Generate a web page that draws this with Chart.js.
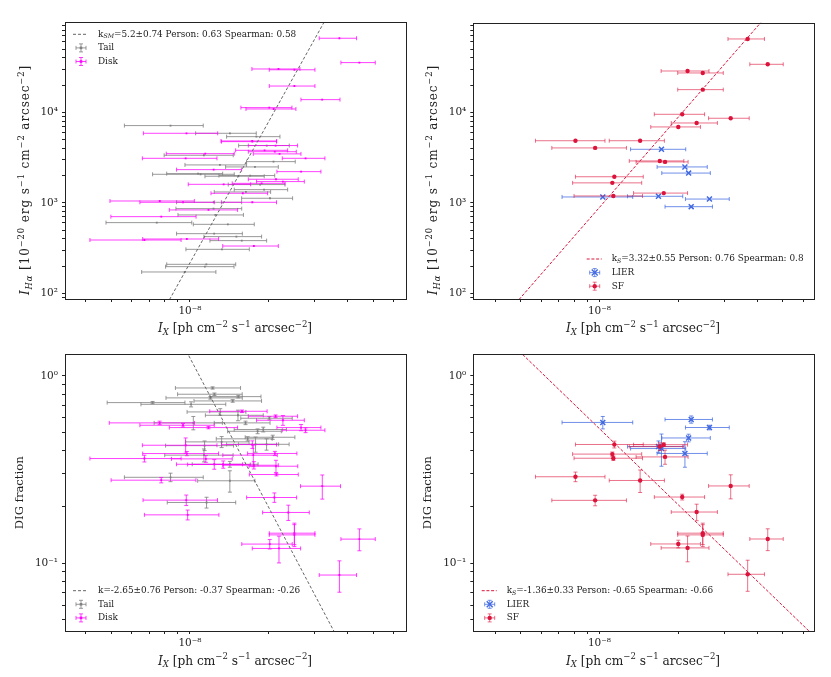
<!DOCTYPE html>
<html>
<head>
<meta charset="utf-8">
<script src="https://cdn.jsdelivr.net/npm/chart.js@4.4.1/dist/chart.umd.min.js"></script>
<style>
  body { margin: 0; background: #fff; width: 831px; height: 677px; position: relative; overflow: hidden; }
  canvas { position: absolute; }
</style>
</head>
<body>
<canvas id="tl" width="415" height="340" style="left:0;top:0"></canvas>
<canvas id="tr" width="416" height="340" style="left:415px;top:0"></canvas>
<canvas id="bl" width="415" height="337" style="left:0;top:340px"></canvas>
<canvas id="br" width="416" height="337" style="left:415px;top:340px"></canvas>
<script>
// x values are in units of 1e-8 ph cm^-2 s^-1 arcsec^-2
const X_UNIT = 1e-8;

// top left: I_Halpha vs I_X, tail and disk regions
const tlTailX    = [0.843, 1.421, 1.793, 1.964, 1.13, 2.084, 1.301, 1.771, 1.098, 1.074, 1.531, 1.698, 1.853, 1.918, 1.635, 2.02, 1.23, 1.232, 1.25, 0.747, 1.395, 1.237, 1.504, 1.577, 1.325, 1.155, 1.14, 0.955];
const tlTailXErr = [0.281, 0.37, 0.413, 0.43, 0.333, 0.439, 0.344, 0.403, 0.378, 0.259, 0.39, 0.408, 0.453, 0.442, 0.397, 0.445, 0.346, 0.343, 0.35, 0.269, 0.365, 0.348, 0.373, 0.385, 0.36, 0.34, 0.333, 0.301];
const tlTailY    = [7130, 5860, 5380, 4290, 3350, 2850, 2620, 2490, 2065, 2100, 1965, 2000, 1590, 1398, 1318, 1122, 862, 1013, 734, 604, 578, 456, 423, 382, 306, 209, 197, 172];

const tlDiskX    = [3.72, 4.434, 2.177, 2.504, 2.504, 3.196, 2.008, 2.087, 0.97, 1.728, 1.73, 2.123, 1.927, 2.108, 2.199, 1.144, 0.963, 2.763, 1.232, 2.655, 2.13, 2.264, 1.345, 1.878, 1.591, 0.767, 0.941, 1.73, 1.177, 0.777, 0.67, 0.973, 1.754];
const tlDiskXErr = [0.605, 0.664, 0.453, 0.496, 0.496, 0.543, 0.443, 0.451, 0.306, 0.415, 0.41, 0.453, 0.433, 0.438, 0.454, 0.332, 0.305, 0.512, 0.343, 0.507, 0.46, 0.468, 0.36, 0.428, 0.388, 0.272, 0.297, 0.41, 0.343, 0.278, 0.255, 0.313, 0.42];
const tlDiskY    = [65800, 35400, 30100, 29500, 19500, 13800, 11260, 10880, 5860, 4820, 4740, 4290, 3800, 3670, 3470, 3490, 3100, 3100, 2325, 2210, 1820, 1715, 1600, 1640, 1274, 1047, 1013, 1013, 834, 703, 388, 398, 333];

// bottom left: DIG fraction vs I_X
const blTailX    = [1.22, 1.24, 1.197, 1.53, 0.72, 1.01, 1.456, 1.305, 1.525, 2.01, 1.63, 1.03, 1.812, 1.905, 2.07, 1.66, 1.78, 1.961, 1.137, 1.321, 1.131, 1.42, 1.42, 0.843, 1.157];
const blTailXErr = [0.34, 0.343, 0.387, 0.337, 0.237, 0.36, 0.42, 0.33, 0.38, 0.447, 0.392, 0.3, 0.42, 0.43, 0.445, 0.4, 0.4, 0.43, 0.33, 0.36, 0.33, 0.4, 0.35, 0.281, 0.338];
const blTailY    = [0.863, 0.799, 0.764, 0.776, 0.721, 0.706, 0.736, 0.643, 0.617, 0.595, 0.562, 0.562, 0.507, 0.518, 0.471, 0.462, 0.432, 0.432, 0.425, 0.445, 0.378, 0.338, 0.276, 0.288, 0.2114];
const blTailYErr = [0.012, 0.012, 0.012, 0.012, 0.01, 0.022, 0.012, 0.026, 0.04, 0.012, 0.012, 0.046, 0.015, 0.015, 0.012, 0.012, 0.04, 0.03, 0.025, 0.03, 0.03, 0.012, 0.036, 0.015, 0.014];

const blDiskX    = [3.72, 4.434, 2.017, 2.187, 2.504, 2.504, 2.374, 2.1, 3.2, 0.777, 0.968, 0.98, 2.138, 1.58, 2.123, 2.264, 0.766, 0.941, 1.177, 2.763, 2.655, 0.963, 1.73, 0.67, 0.973, 1.15, 1.238, 1.34, 2.11, 1.754, 2.13, 1.745];
const blDiskXErr = [0.605, 0.664, 0.44, 0.458, 0.496, 0.496, 0.48, 0.454, 0.557, 0.277, 0.306, 0.31, 0.453, 0.39, 0.453, 0.468, 0.274, 0.297, 0.343, 0.512, 0.507, 0.305, 0.41, 0.255, 0.313, 0.3, 0.35, 0.36, 0.45, 0.42, 0.45, 0.41];
const blDiskY    = [0.0867, 0.1348, 0.1268, 0.1202, 0.145, 0.142, 0.187, 0.2247, 0.2583, 0.278, 0.2176, 0.1816, 0.298, 0.648, 0.6096, 0.5804, 0.562, 0.546, 0.5305, 0.5135, 0.5305, 0.427, 0.4306, 0.3627, 0.3856, 0.3612, 0.338, 0.337, 0.386, 0.334, 0.33, 0.378];
const blDiskYErr = [0.0165, 0.018, 0.0074, 0.0196, 0.019, 0.019, 0.0175, 0.013, 0.038, 0.009, 0.014, 0.011, 0.005, 0.01, 0.01, 0.035, 0.012, 0.012, 0.008, 0.015, 0.02, 0.04, 0.02, 0.015, 0.01, 0.015, 0.02, 0.015, 0.01, 0.015, 0.025, 0.05];

// right column: BPT classes (shared x between the two panels)
const sfX      = [3.68, 4.39, 2.17, 2.48, 2.48, 2.07, 3.17, 2.35, 2.0, 0.81, 1.43, 0.963, 1.70, 1.78, 1.14, 1.12, 1.13, 1.76];
const sfXErr   = [0.585, 0.64, 0.45, 0.49, 0.49, 0.45, 0.56, 0.47, 0.43, 0.24, 0.34, 0.305, 0.4, 0.4, 0.33, 0.33, 0.33, 0.41];
const sfHa     = [64600, 33900, 28600, 27200, 17800, 9500, 8590, 7620, 6890, 4850, 4850, 4040, 2900, 2830, 1940, 1660, 1190, 1280];
const sfDig    = [0.0875, 0.135, 0.121, 0.145, 0.142, 0.226, 0.259, 0.188, 0.127, 0.29, 0.277, 0.217, 0.42, 0.37, 0.431, 0.383, 0.364, 0.43];
const sfDigErr = [0.0165, 0.018, 0.019, 0.019, 0.019, 0.008, 0.038, 0.019, 0.006, 0.017, 0.038, 0.014, 0.02, 0.032, 0.018, 0.01, 0.01, 0.01];

const lierX      = [1.725, 2.12, 2.19, 1.03, 1.68, 2.63, 2.24];
const lierXErr   = [0.41, 0.46, 0.46, 0.31, 0.4, 0.5, 0.46];
const lierHa     = [3900, 2490, 2130, 1160, 1180, 1100, 906];
const lierDig    = [0.41, 0.386, 0.467, 0.565, 0.42, 0.531, 0.586];
const lierDigErr = [0.08, 0.06, 0.022, 0.043, 0.03, 0.015, 0.026];

// fitted power laws, end points
const tlFitX = [0.8, 3.4],  tlFitY = [68, 125000];
const trFitX = [0.48, 4.3], trFitY = [78, 112000];
const blFitX = [0.95, 3.7], blFitY = [1.43, 0.0388];
const brFitX = [0.48, 6.6], brFitY = [1.41, 0.041];

// ticks
const xTicks  = [4e-9, 5e-9, 6e-9, 7e-9, 8e-9, 9e-9, 1e-8, 2e-8, 3e-8, 4e-8, 5e-8, 6e-8];
const xLabels = { '1e-8': '10⁻⁸' };
const haTicks = [90, 100, 200, 300, 400, 500, 600, 700, 800, 900, 1000, 2000, 3000, 4000, 5000, 6000, 7000, 8000, 9000,
                 10000, 20000, 30000, 40000, 50000, 60000, 70000, 80000, 90000];
const haLabels = { '100': '10²', '1000': '10³', '10000': '10⁴' };
const digTicks = [0.05, 0.06, 0.07, 0.08, 0.09, 0.1, 0.2, 0.3, 0.4, 0.5, 0.6, 0.7, 0.8, 0.9, 1];
const digLabels = { '0.1': '10⁻¹', '1': '10⁰' };

const FONT = '"DejaVu Serif", serif';
const TAIL = '#808080', DISK = '#ff00ff', LIER = '#4169e1', SF = '#dc143c';

function pts(xs, ys) {
  return xs.map((v, i) => ({ x: v * X_UNIT, y: ys[i] }));
}
function scaled(arr) {
  return arr.map(v => v * X_UNIT);
}

function logAxis(min, max, ticks, labels, isX) {
  return {
    type: 'logarithmic',
    min: min,
    max: max,
    afterBuildTicks: s => { s.ticks = ticks.map(v => ({ value: v })); },
    afterFit: s => { if (isX) s.height = 30; else s.width = 40; },
    ticks: {
      autoSkip: false,
      maxRotation: 0,
      padding: isX ? 3 : 4,
      color: '#222',
      font: { family: FONT, size: 10.5 },
      callback: v => labels[String(v)] || ''
    },
    grid: { drawOnChartArea: false, tickLength: 3, color: '#222' },
    border: { display: false }
  };
}

// error bars drawn under each dataset's markers
const errorBars = {
  id: 'errorBars',
  beforeDatasetDraw(chart, args) {
    const ds = chart.data.datasets[args.index];
    if (!ds.xErr && !ds.yErr) return;
    const xs = chart.scales.x, ys = chart.scales.y, ctx = chart.ctx, a = chart.chartArea;
    const cap = 2;
    ctx.save();
    ctx.beginPath();
    ctx.rect(a.left, a.top, a.right - a.left, a.bottom - a.top);
    ctx.clip();
    ctx.strokeStyle = ds.errColor;
    ctx.globalAlpha = ds.errAlpha;
    ctx.lineWidth = 1;
    ds.data.forEach((p, i) => {
      const px = xs.getPixelForValue(p.x), py = ys.getPixelForValue(p.y);
      ctx.beginPath();
      if (ds.xErr) {
        const x0 = xs.getPixelForValue(p.x - ds.xErr[i]), x1 = xs.getPixelForValue(p.x + ds.xErr[i]);
        ctx.moveTo(x0, py); ctx.lineTo(x1, py);
        ctx.moveTo(x0, py - cap); ctx.lineTo(x0, py + cap);
        ctx.moveTo(x1, py - cap); ctx.lineTo(x1, py + cap);
      }
      if (ds.yErr) {
        const y0 = ys.getPixelForValue(p.y - ds.yErr[i]), y1 = ys.getPixelForValue(p.y + ds.yErr[i]);
        ctx.moveTo(px, y0); ctx.lineTo(px, y1);
        ctx.moveTo(px - cap, y0); ctx.lineTo(px + cap, y0);
        ctx.moveTo(px - cap, y1); ctx.lineTo(px + cap, y1);
      }
      ctx.stroke();
    });
    ctx.restore();
  }
};

// text with italic / sub / superscript pieces
function drawRich(ctx, parts, x, y, size, align, rotate, spacing) {
  ctx.save();
  ctx.translate(x, y);
  if (rotate) ctx.rotate(-Math.PI / 2);
  ctx.fillStyle = '#222';
  ctx.textBaseline = 'middle';
  ctx.textAlign = 'left';
  if (spacing) ctx.letterSpacing = spacing + 'px';
  const fontOf = p => (p.it ? 'italic ' : '') + ((p.sup || p.sub) ? size * 0.7 : size) + 'px ' + FONT;
  let total = 0;
  const widths = parts.map(p => { ctx.font = fontOf(p); const w = ctx.measureText(p.t).width; total += w; return w; });
  let cx = align === 'center' ? -total / 2 : 0;
  parts.forEach((p, i) => {
    ctx.font = fontOf(p);
    const dy = p.sup ? -size * 0.38 : p.sub ? size * 0.28 : 0;
    ctx.fillText(p.t, cx, dy);
    cx += widths[i];
  });
  ctx.restore();
}

const xTitle = [{ t: 'I', it: true }, { t: 'X', it: true, sub: true }, { t: ' [ph cm' }, { t: '−2', sup: true },
  { t: ' s' }, { t: '−1', sup: true }, { t: ' arcsec' }, { t: '−2', sup: true }, { t: ']' }];
const haTitle = [{ t: 'I', it: true }, { t: 'Hα', it: true, sub: true }, { t: ' [10' }, { t: '−20', sup: true },
  { t: ' erg s' }, { t: '−1', sup: true }, { t: ' cm' }, { t: '−2', sup: true }, { t: ' arcsec' }, { t: '−2', sup: true }, { t: ']' }];
const digTitle = [{ t: 'DIG fraction' }];

function drawIcon(ctx, x, y, e) {
  ctx.save();
  ctx.strokeStyle = e.color;
  ctx.lineWidth = 1;
  ctx.globalAlpha = e.alpha;
  ctx.beginPath();
  ctx.moveTo(x - 5, y); ctx.lineTo(x + 5, y);
  ctx.moveTo(x - 5, y - 2); ctx.lineTo(x - 5, y + 2);
  ctx.moveTo(x + 5, y - 2); ctx.lineTo(x + 5, y + 2);
  ctx.moveTo(x, y - 4); ctx.lineTo(x, y + 4);
  ctx.moveTo(x - 2, y - 4); ctx.lineTo(x + 2, y - 4);
  ctx.moveTo(x - 2, y + 4); ctx.lineTo(x + 2, y + 4);
  ctx.stroke();
  ctx.globalAlpha = 1;
  ctx.fillStyle = e.color;
  ctx.strokeStyle = e.color;
  if (e.marker === 'circle') {
    ctx.beginPath(); ctx.arc(x, y, 2.2, 0, Math.PI * 2); ctx.fill();
  } else if (e.marker === 'cross') {
    ctx.lineWidth = 1.4;
    ctx.beginPath();
    ctx.moveTo(x - 3, y - 3); ctx.lineTo(x + 3, y + 3);
    ctx.moveTo(x - 3, y + 3); ctx.lineTo(x + 3, y - 3);
    ctx.stroke();
  } else {
    ctx.fillRect(x - 1.3, y - 1.3, 2.6, 2.6);
  }
  ctx.restore();
}

function decor(cfg) {
  return {
    id: 'decor',
    afterDatasetsDraw(chart) {
      const ctx = chart.ctx, a = chart.chartArea;
      ctx.save();
      ctx.strokeStyle = '#222';
      ctx.lineWidth = 1;
      ctx.strokeRect(Math.round(a.left) + 0.5, Math.round(a.top) + 0.5, Math.round(a.right - a.left), Math.round(a.bottom - a.top));
      ctx.restore();
      const L = cfg.legend;
      L.rows.forEach((r, i) => {
        const y = L.y + i * 13.6;
        if (r.line) {
          ctx.save();
          ctx.strokeStyle = r.color;
          ctx.lineWidth = 1;
          ctx.setLineDash(r.dash);
          ctx.beginPath(); ctx.moveTo(L.x, y); ctx.lineTo(L.x + 15, y); ctx.stroke();
          ctx.restore();
        } else {
          drawIcon(ctx, L.x + 8, y, r);
        }
        drawRich(ctx, r.text, L.x + 25, y, 8.9, 'left', false, 0);
      });
    },
    afterDraw(chart) {
      const ctx = chart.ctx;
      drawRich(ctx, xTitle, cfg.xt[0], cfg.xt[1], 12.2, 'center', false, 0);
      drawRich(ctx, cfg.yTitle, cfg.yt[0], cfg.yt[1], cfg.ySize, 'center', true, cfg.ySpacing);
    }
  };
}

function errSet(label, xs, xe, ys, ye, color, alpha, style, radius, order) {
  return {
    label: label,
    data: pts(xs, ys),
    xErr: scaled(xe),
    yErr: ye,
    errColor: color,
    errAlpha: alpha,
    pointStyle: style,
    pointRadius: radius,
    backgroundColor: color,
    borderColor: color,
    borderWidth: style === 'crossRot' ? 1.5 : 0,
    order: order
  };
}
function fitSet(xs, ys, color, dash) {
  return {
    type: 'line',
    data: pts(xs, ys),
    showLine: true,
    pointRadius: 0,
    borderColor: color,
    borderWidth: 1,
    borderDash: dash,
    order: 0
  };
}

function makePanel(id, cfg) {
  new Chart(document.getElementById(id), {
    type: 'scatter',
    data: { datasets: cfg.datasets },
    options: {
      responsive: false,
      animation: false,
      events: [],
      layout: { padding: cfg.padding },
      plugins: { legend: { display: false }, tooltip: { enabled: false } },
      scales: {
        x: logAxis(cfg.xr[0], cfg.xr[1], xTicks, xLabels, true),
        y: logAxis(cfg.yr[0], cfg.yr[1], cfg.yTicks, cfg.yLabels, false)
      }
    },
    plugins: [errorBars, decor(cfg)]
  });
}

const fitGray = '#666', dashGray = [3, 2], dashRed = [3, 1.7];

makePanel('tl', {
  padding: { left: 25, right: 9.5, top: 22.3, bottom: 11 },
  xr: [3.334e-9, 6.65e-8], yr: [86.5, 98700], yTicks: haTicks, yLabels: haLabels,
  xt: [235, 329], yt: [26, 180], yTitle: haTitle, ySize: 12, ySpacing: 0.9,
  datasets: [
    fitSet(tlFitX, tlFitY, fitGray, dashGray),
    errSet('Disk', tlDiskX, tlDiskXErr, tlDiskY, null, DISK, 0.75, 'rect', 1.3, 1),
    errSet('Tail', tlTailX, tlTailXErr, tlTailY, null, TAIL, 0.8, 'rect', 1.3, 2)
  ],
  legend: { x: 73, y: 34.3, rows: [
    { line: true, color: fitGray, dash: dashGray, text: [{ t: 'k' }, { t: 'SM', it: true, sub: true }, { t: '=5.2±0.74 Person: 0.63 Spearman: 0.58' }] },
    { color: TAIL, alpha: 0.8, marker: 'rect', text: [{ t: 'Tail' }] },
    { color: DISK, alpha: 0.75, marker: 'rect', text: [{ t: 'Disk' }] }
  ] }
});

makePanel('tr', {
  padding: { left: 18.3, right: 16.7, top: 22.7, bottom: 11 },
  xr: [3.30e-9, 6.61e-8], yr: [86.5, 97700], yTicks: haTicks, yLabels: haLabels,
  xt: [228, 329], yt: [19, 180], yTitle: haTitle, ySize: 12, ySpacing: 0.9,
  datasets: [
    fitSet(trFitX, trFitY, SF, dashRed),
    errSet('SF', sfX, sfXErr, sfHa, null, SF, 0.6, 'circle', 2.2, 1),
    errSet('LIER', lierX, lierXErr, lierHa, null, LIER, 0.75, 'crossRot', 3.5, 2)
  ],
  legend: { x: 171.7, y: 259, rows: [
    { line: true, color: SF, dash: dashRed, text: [{ t: 'k' }, { t: 'S', it: true, sub: true }, { t: '=3.32±0.55 Person: 0.76 Spearman: 0.8' }] },
    { color: LIER, alpha: 0.75, marker: 'cross', text: [{ t: 'LIER' }] },
    { color: SF, alpha: 0.6, marker: 'circle', text: [{ t: 'SF' }] }
  ] }
});

makePanel('bl', {
  padding: { left: 25, right: 9.5, top: 14.3, bottom: 16 },
  xr: [3.334e-9, 6.65e-8], yr: [0.0436, 1.305], yTicks: digTicks, yLabels: digLabels,
  xt: [235, 321.5], yt: [19.5, 152.8], yTitle: digTitle, ySize: 11.6, ySpacing: 0,
  datasets: [
    fitSet(blFitX, blFitY, fitGray, dashGray),
    errSet('Disk', blDiskX, blDiskXErr, blDiskY, blDiskYErr, DISK, 0.75, 'rect', 1.3, 1),
    errSet('Tail', blTailX, blTailXErr, blTailY, blTailYErr, TAIL, 0.8, 'rect', 1.3, 2)
  ],
  legend: { x: 73, y: 250.7, rows: [
    { line: true, color: fitGray, dash: dashGray, text: [{ t: 'k=-2.65±0.76 Person: -0.37 Spearman: -0.26' }] },
    { color: TAIL, alpha: 0.8, marker: 'rect', text: [{ t: 'Tail' }] },
    { color: DISK, alpha: 0.75, marker: 'rect', text: [{ t: 'Disk' }] }
  ] }
});

makePanel('br', {
  padding: { left: 18.3, right: 16.7, top: 14.3, bottom: 16 },
  xr: [3.30e-9, 6.61e-8], yr: [0.0436, 1.305], yTicks: digTicks, yLabels: digLabels,
  xt: [228, 321.5], yt: [12.8, 152.8], yTitle: digTitle, ySize: 11.6, ySpacing: 0,
  datasets: [
    fitSet(brFitX, brFitY, SF, dashRed),
    errSet('SF', sfX, sfXErr, sfDig, sfDigErr, SF, 0.6, 'circle', 2.2, 1),
    errSet('LIER', lierX, lierXErr, lierDig, lierDigErr, LIER, 0.75, 'crossRot', 3.5, 2)
  ],
  legend: { x: 66.7, y: 250.7, rows: [
    { line: true, color: SF, dash: dashRed, text: [{ t: 'k' }, { t: 'S', it: true, sub: true }, { t: '=-1.36±0.33 Person: -0.65 Spearman: -0.66' }] },
    { color: LIER, alpha: 0.75, marker: 'cross', text: [{ t: 'LIER' }] },
    { color: SF, alpha: 0.6, marker: 'circle', text: [{ t: 'SF' }] }
  ] }
});
</script>
</body>
</html>
